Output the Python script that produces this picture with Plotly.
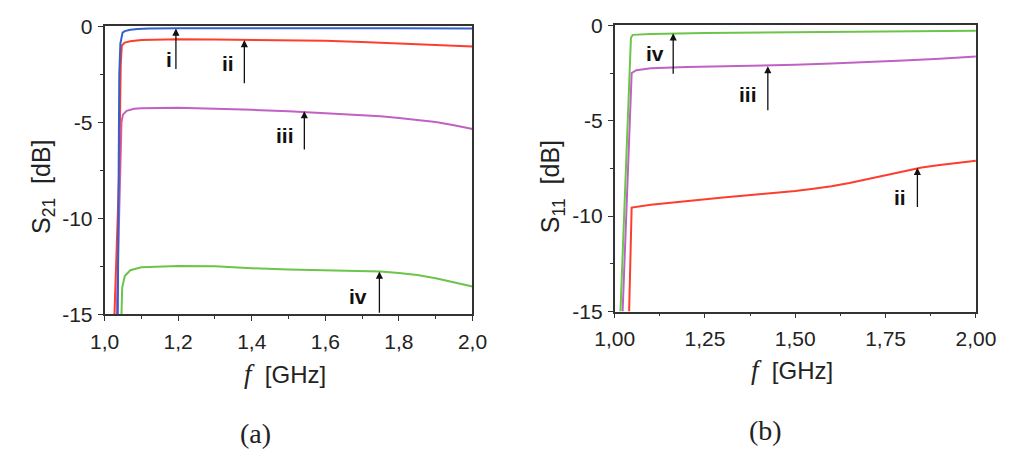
import plotly.graph_objects as go

# ---------------- data (a) S21 ----------------
a_i_f = [1.036, 1.040, 1.043, 1.046, 1.049, 1.055, 1.07, 1.09, 1.12, 1.2, 1.4, 1.6, 1.8, 2.0]
a_i_s = [-15.0, -2.5, -0.9, -0.5, -0.33, -0.25, -0.18, -0.14, -0.12, -0.11, -0.1, -0.1, -0.1, -0.12]

a_ii_f = [1.027, 1.040, 1.044, 1.047, 1.055, 1.07, 1.1, 1.2, 1.3, 1.4, 1.5, 1.6, 1.7, 1.8, 1.9, 2.0]
a_ii_s = [-15.0, -7.5, -2.0, -1.0, -0.85, -0.78, -0.72, -0.68, -0.69, -0.71, -0.72, -0.76, -0.82, -0.9, -0.97, -1.05]

a_iii_f = [1.033, 1.043, 1.046, 1.05, 1.06, 1.08, 1.1, 1.2, 1.3, 1.4, 1.5, 1.6, 1.7, 1.75, 1.8, 1.85, 1.9, 1.95, 2.0]
a_iii_s = [-15.0, -7.0, -5.0, -4.6, -4.4, -4.3, -4.27, -4.24, -4.28, -4.35, -4.43, -4.52, -4.62, -4.69, -4.77, -4.87, -4.99, -5.15, -5.35]

a_iv_f = [1.046, 1.048, 1.055, 1.07, 1.1, 1.2, 1.3, 1.4, 1.5, 1.6, 1.7, 1.75, 1.8, 1.85, 1.9, 1.95, 2.0]
a_iv_s = [-15.0, -13.6, -13.0, -12.7, -12.55, -12.48, -12.5, -12.6, -12.66, -12.7, -12.74, -12.77, -12.84, -12.95, -13.12, -13.33, -13.55]

# ---------------- data (b) S11 ----------------
b_ii_f = [1.040, 1.047, 1.1, 1.2, 1.3, 1.4, 1.45, 1.5, 1.55, 1.6, 1.65, 1.7, 1.75, 1.8, 1.85, 1.9, 1.95, 2.0]
b_ii_s = [-15.0, -9.55, -9.4, -9.2, -9.02, -8.85, -8.77, -8.68, -8.57, -8.44, -8.26, -8.05, -7.83, -7.62, -7.45, -7.32, -7.2, -7.1]

b_iii_f = [1.022, 1.047, 1.06, 1.1, 1.2, 1.3, 1.4, 1.5, 1.6, 1.7, 1.8, 1.9, 2.0]
b_iii_s = [-15.0, -2.5, -2.35, -2.25, -2.18, -2.15, -2.12, -2.07, -2.0, -1.93, -1.85, -1.75, -1.63]

b_iv_f = [1.016, 1.045, 1.05, 1.1, 1.25, 1.5, 1.75, 2.0]
b_iv_s = [-15.0, -0.65, -0.5, -0.45, -0.4, -0.36, -0.32, -0.28]

# tick labels
y_tickvals = [-15, -10, -5, 0]
y_ticktext = ["-15", "-10", "-5", "0"]
a_x_tickvals = [1.0, 1.2, 1.4, 1.6, 1.8, 2.0]
a_x_ticktext = ["1,0", "1,2", "1,4", "1,6", "1,8", "2,0"]
b_x_tickvals = [1.0, 1.25, 1.5, 1.75, 2.0]
b_x_ticktext = ["1,00", "1,25", "1,50", "1,75", "2,00"]

# arrow annotations: (label, x_head, y_head, y_tail, label_x, label_y)
a_arrows = [("i", 1.194, -0.12, -2.3, 1.175, -1.75),
            ("ii", 1.38, -0.72, -3.05, 1.335, -1.95),
            ("iii", 1.543, -4.42, -6.5, 1.49, -5.7),
            ("iv", 1.747, -12.77, -15.0, 1.69, -14.05)]
b_arrows = [("iv", 1.162, -0.42, -2.62, 1.113, -1.5),
            ("iii", 1.424, -2.14, -4.53, 1.37, -3.6),
            ("ii", 1.838, -7.47, -9.6, 1.79, -9.0)]

BLUE = "#3560cc"
RED = "#ff3d2e"
MAG = "#c061c4"
GREEN = "#6cc44a"

fig = go.Figure()

def line(x, y, c, xa, ya):
    fig.add_trace(go.Scatter(x=x, y=y, mode="lines", line=dict(color=c, width=2),
                             xaxis=xa, yaxis=ya, showlegend=False, hoverinfo="skip"))

line(a_iv_f, a_iv_s, GREEN, "x", "y")
line(a_iii_f, a_iii_s, MAG, "x", "y")
line(a_ii_f, a_ii_s, RED, "x", "y")
line(a_i_f, a_i_s, BLUE, "x", "y")

line(b_ii_f, b_ii_s, RED, "x2", "y2")
line(b_iii_f, b_iii_s, MAG, "x2", "y2")
line(b_iv_f, b_iv_s, GREEN, "x2", "y2")

W, H = 1018, 468
SANS = "Arial"
TICKFONT = dict(family=SANS, size=21, color="#222")
axcommon = dict(showline=True, linecolor="#333", linewidth=1.6, mirror=True,
                ticks="outside", ticklen=5, tickwidth=1.4, tickcolor="#333",
                showgrid=False, zeroline=False, tickfont=TICKFONT,
                minor=dict(ticks="outside", ticklen=3, tickwidth=1.2, tickcolor="#333", showgrid=False))

fig.update_layout(
    width=W, height=H, margin=dict(l=0, r=0, t=0, b=0),
    paper_bgcolor="white", plot_bgcolor="white",
    xaxis=dict(domain=[88 / W, 471 / W], range=[1.0, 2.0], tickvals=a_x_tickvals,
               ticktext=a_x_ticktext, anchor="y", ticklabelstandoff=3, **axcommon),
    yaxis=dict(domain=[1 - 318 / H, 1 - 15 / H], range=[-15, 0], tickvals=y_tickvals,
               ticktext=y_ticktext, anchor="x", ticklabelstandoff=1, **axcommon),
    xaxis2=dict(domain=[619 / W, 995 / W], range=[1.0, 2.0], tickvals=b_x_tickvals,
                ticktext=b_x_ticktext, anchor="y2", ticklabelstandoff=2, **axcommon),
    yaxis2=dict(domain=[1 - 315 / H, 1 - 14 / H], range=[-15, 0], tickvals=y_tickvals,
                ticktext=y_ticktext, anchor="x2", ticklabelstandoff=1, **axcommon),
)
fig.layout.xaxis.minor.tickvals = [1.1, 1.3, 1.5, 1.7, 1.9]
fig.layout.xaxis2.minor.tickvals = [1.125, 1.375, 1.625, 1.875]
fig.layout.yaxis.minor.tickvals = [-12.5, -7.5, -2.5]
fig.layout.yaxis2.minor.tickvals = [-12.5, -7.5, -2.5]

LBL = dict(family=SANS, size=21, color="#111")

def arrows(lst, xr, yr):
    for lab, xh, yh, yt, lx, ly in lst:
        fig.add_annotation(x=xh, y=yh, ax=xh, ay=yt, xref=xr, yref=yr, axref=xr, ayref=yr,
                           showarrow=True, arrowhead=2, arrowsize=1.1, arrowwidth=1.3,
                           arrowcolor="#111", text="")
        fig.add_annotation(x=lx, y=ly, xref=xr, yref=yr, showarrow=False,
                           xanchor="center", yanchor="middle",
                           text="<b>%s</b>" % lab, font=LBL)

arrows(a_arrows, "x", "y")
arrows(b_arrows, "x2", "y2")

TITLE = dict(family=SANS, size=24, color="#222")
YTITLE = dict(family=SANS, size=25, color="#222")
SERIF = dict(family="Liberation Serif", size=28, color="#222")

def paper_text(cx, cy, text, font, angle=0):
    fig.add_annotation(x=cx / W, y=1 - cy / H, xref="paper", yref="paper", showarrow=False,
                       xanchor="center", yanchor="middle", text=text, textangle=angle, font=font)

# y titles
paper_text(24, 184, "S<sub>21</sub>&nbsp;&nbsp;[dB]", YTITLE, -90)
paper_text(554, 184, "S<sub>11</sub>&nbsp;&nbsp;[dB]", YTITLE, -90)

# x titles
XT = "<i><span style='font-family:Liberation Serif;font-size:27px'>f</span></i>&nbsp;&nbsp;[GHz]"
paper_text(276, 381, XT, TITLE)
paper_text(804, 376, XT, TITLE)

# panel labels
paper_text(245, 443, "(a)", SERIF)
paper_text(776, 440, "(b)", SERIF)

fig.write_html("out.html")
